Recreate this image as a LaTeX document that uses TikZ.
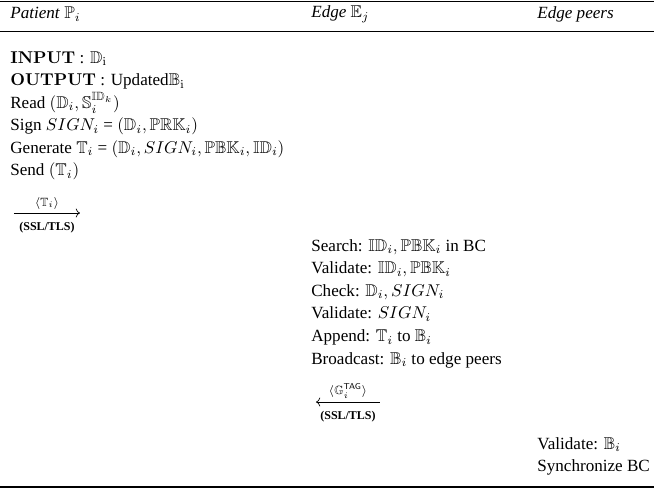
\documentclass[tikz,border=0pt]{standalone}
\usepackage{amsmath, amssymb}
\usepackage[no-math]{fontspec}
\setmainfont{Liberation Serif}
\usetikzlibrary{arrows.meta, positioning}

\begin{document}
\begin{tikzpicture}[x=0.585pt, y=-0.585pt, every node/.style={inner sep=0pt},
    steps/.style={anchor=north west, align=left, font=\fontsize{10}{13.2}\selectfont},
    msg/.style={->, thin},
    chan/.style={font=\scriptsize\bfseries}]
    \useasboundingbox (0,0) rectangle (654,491);
    % rules
    \draw[line width=0.8pt] (0,1.5) -- (654,1.5);
    \draw[line width=0.5pt] (0,31) -- (654,31);
    \draw[line width=0.8pt] (0,487) -- (654,487);
    % headings
    \node[anchor=west] (hpat) at (10,14) {\textit{Patient} $\mathbb{P}_i$};
    \node[anchor=west] (hedge) at (311,14) {\textit{Edge} $\mathbb{E}_j$};
    \node[anchor=west] (hpeer) at (537,14) {\textit{Edge peers}};
    % patient side
    \node[steps] (pat) at (10,51) {$\mathbf{INPUT}$ : $\mathbb{D}_\mathrm{i}$\\
        $\mathbf{OUTPUT}$ : Updated$\mathbb{B}_\mathrm{i}$\\
        Read $(\mathbb{D}_i, \mathbb{S}_i^{\mathbb{ID}_k})$\\
        Sign $SIGN_i$ = $(\mathbb{D}_i, \mathbb{PRK}_i)$\\
        Generate $\mathbb{T}_i$ = $(\mathbb{D}_i, SIGN_i, \mathbb{PBK}_i, \mathbb{ID}_i)$\\
        Send $(\mathbb{T}_i)$};
    \coordinate (t1) at (14,213);
    \coordinate (t2) at (80,213);
    \draw[msg] (t1) -- node[above=2pt, font=\scriptsize] (tlab) {$\langle\mathbb{T}_i\rangle$}
        node[below=5pt, chan] (tssl) {(SSL/TLS)} (t2);
    % edge side
    \node[steps] (edg) at (311,239) {Search: $\mathbb{ID}_i, \mathbb{PBK}_i$ in BC\\
        Validate: $\mathbb{ID}_i, \mathbb{PBK}_i$\\
        Check: $\mathbb{D}_i, SIGN_i$\\
        Validate: $SIGN_i$\\
        Append: $\mathbb{T}_i$ to $\mathbb{B}_i$\\
        Broadcast: $\mathbb{B}_i$ to edge peers};
    \coordinate (g1) at (380,402);
    \coordinate (g2) at (316,402);
    \draw[msg] (g1) -- node[above=2pt, font=\scriptsize] (glab) {$\langle\mathbb{G}_i^{\mathsf{TAG}}\rangle$}
        node[below=5pt, chan] (gssl) {(SSL/TLS)} (g2);
    % edge peers
    \node[steps] (peer) at (537,437) {Validate: $\mathbb{B}_i$\\
        Synchronize BC};
\end{tikzpicture}
\end{document}
